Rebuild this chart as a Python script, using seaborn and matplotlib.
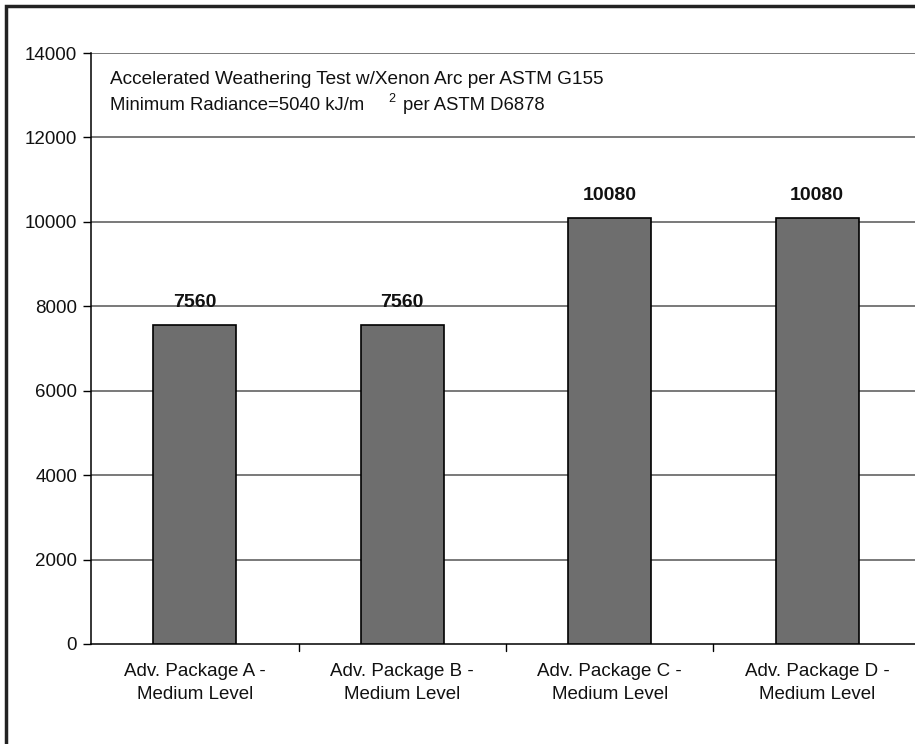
import matplotlib
matplotlib.use("Agg")
import matplotlib.pyplot as plt
import seaborn as sns
import pandas as pd
from matplotlib.patches import Rectangle

categories = ["Adv. Package A -\nMedium Level", "Adv. Package B -\nMedium Level",
              "Adv. Package C -\nMedium Level", "Adv. Package D -\nMedium Level"]
values = [7560, 7560, 10080, 10080]
yticks = [0, 2000, 4000, 6000, 8000, 10000, 12000, 14000]

sns.set_theme(style="white")
plt.rcParams['font.family'] = ['Liberation Sans', 'DejaVu Sans']
plt.rcParams['text.color'] = '#111111'

W, H = 915, 744
AX_L, AX_R, AX_T, AX_B = 91, 921, 53, 644
fig = plt.figure(figsize=(W/100, H/100), dpi=100)
ax = fig.add_axes([AX_L/W, 1-AX_B/H, (AX_R-AX_L)/W, (AX_B-AX_T)/H])

df = pd.DataFrame({"cat": categories, "val": values})
sns.barplot(data=df, x="cat", y="val", ax=ax, color="#6e6e6e", width=0.4,
            edgecolor="black", linewidth=1.2, saturation=1, zorder=3)

ax.set_xlim(-0.5, 3.5)
ax.set_ylim(0, 14000)
ax.set_yticks(yticks)
ax.set_yticklabels([str(t) for t in yticks], fontsize=13.5, color="#111111")
ax.set_xlabel("")
ax.set_ylabel("")
ax.set_xticks(range(len(categories)))
ax.set_xticklabels(categories, fontsize=13.5, color="#111111", linespacing=1.45)
ax.tick_params(axis='x', pad=14, length=0)
ax.tick_params(axis='y', direction='out', length=6, width=1, color="black", pad=4, left=True)
for t in yticks[1:]:
    ax.axhline(t, color="#555555", linewidth=1.1, zorder=1)
for xb in [0.5, 1.5, 2.5]:
    ax.plot([xb, xb], [0, -0.012], transform=ax.get_xaxis_transform(), color="black",
            lw=1, clip_on=False)
for s in ["top", "right"]:
    ax.spines[s].set_visible(False)
for s in ["left", "bottom"]:
    ax.spines[s].set_color("black")
    ax.spines[s].set_linewidth(1.1)

for i, v in enumerate(values):
    ax.text(i, v + 340, str(v), ha="center", va="bottom", fontsize=14, fontweight="bold")


def axpos(px, py):
    return ((px - AX_L) / (AX_R - AX_L), 1 - (py - AX_T) / (AX_B - AX_T))


ax.text(*axpos(110, 79), "Accelerated Weathering Test w/Xenon Arc per ASTM G155",
        transform=ax.transAxes, fontsize=13.7, va="center", ha="left")
ax.text(*axpos(110, 106), "Minimum Radiance=5040 kJ/m",
        transform=ax.transAxes, fontsize=13.3, va="center", ha="left")
ax.text(*axpos(388, 99), "2",
        transform=ax.transAxes, fontsize=9, va="center", ha="left")
ax.text(*axpos(403, 106), "per ASTM D6878",
        transform=ax.transAxes, fontsize=13.3, va="center", ha="left")

fig.patches.append(Rectangle((6/W, -0.05), 1.2, 1-6/H+0.05, transform=fig.transFigure,
                             fill=False, edgecolor="#222222", linewidth=2.5))

fig.savefig("out.png", dpi=100)
